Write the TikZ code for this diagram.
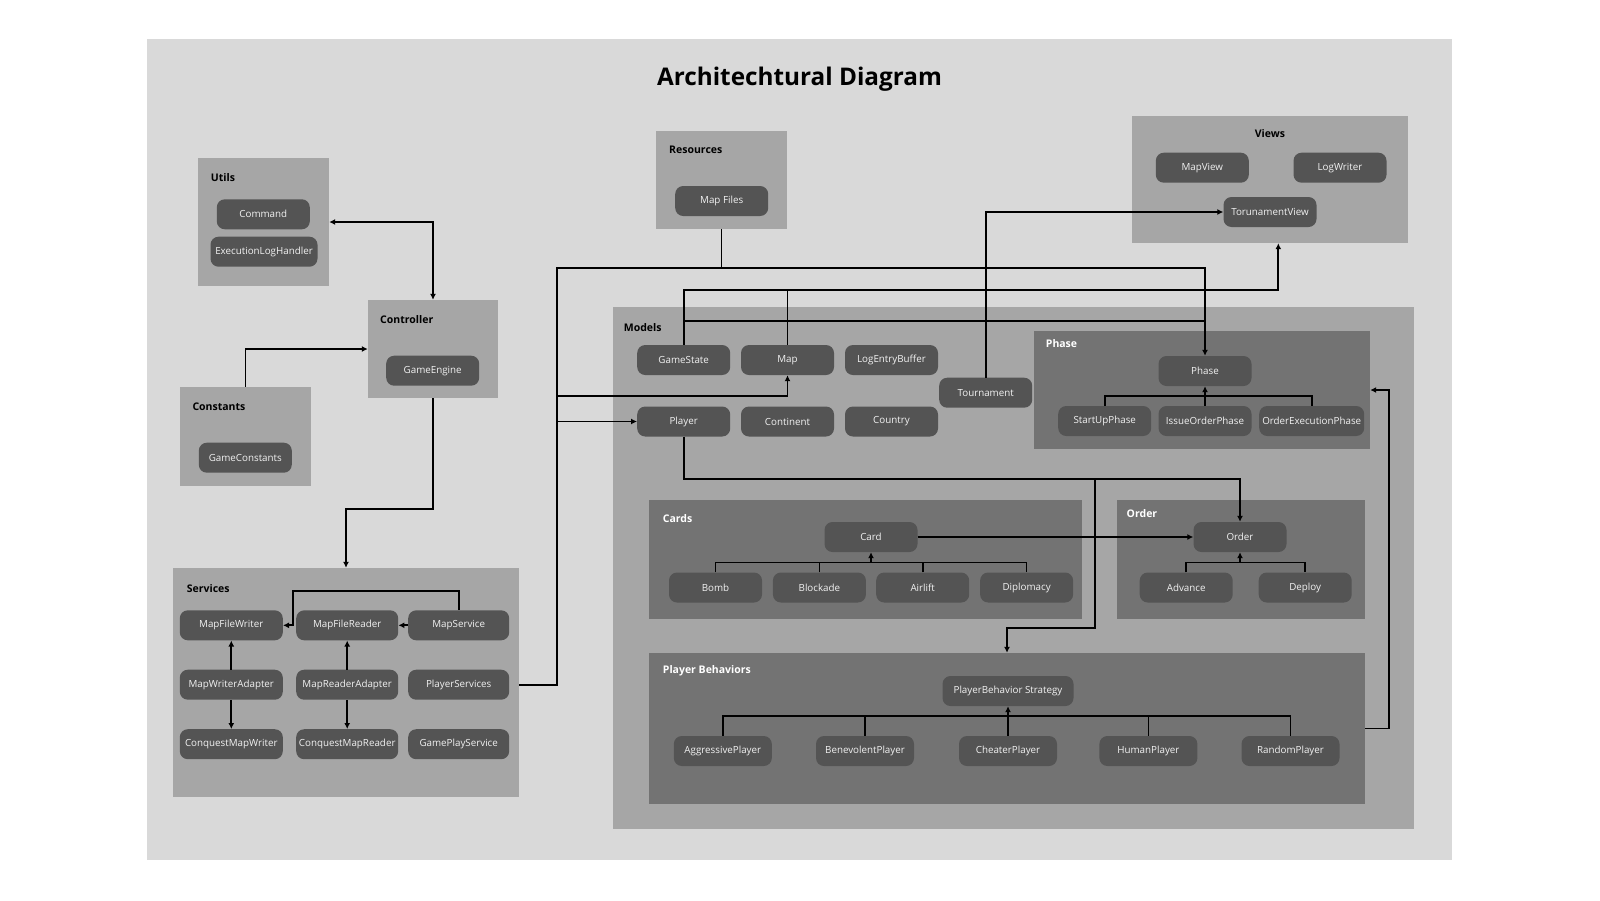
\documentclass[tikz,border=0pt]{standalone}
\usepackage{fontspec}
\setmainfont{Open Sans}
\usetikzlibrary{arrows.meta}
\definecolor{bgA}{HTML}{D9D9D9}
\definecolor{pkgB}{HTML}{A6A6A6}
\definecolor{subC}{HTML}{737373}
\definecolor{nodeD}{HTML}{545454}
\definecolor{txtW}{HTML}{F2F2F2}
\tikzset{
  pkg/.style={fill=pkgB, inner sep=0pt, draw=none},
  subpkg/.style={fill=subC, inner sep=0pt, draw=none},
  cls/.style={fill=nodeD, rounded corners=8pt, text=txtW, minimum height=30pt, minimum width=93pt, inner sep=0pt, font=\fontsize{9.8}{11}\selectfont},
  lbl/.style={anchor=base west, inner sep=0pt, font=\bfseries\fontsize{10.5}{12}\selectfont},
  wlbl/.style={lbl, text=white},
  arr/.style={line width=1.7pt, draw=black},
  >={Latex[length=6pt,width=6pt]}
}
\begin{document}
\begin{tikzpicture}[x=1pt,y=-1pt]
\useasboundingbox (0,0) rectangle (1600,900);
\fill[bgA] (147,39) rectangle (1452,860);
\node[anchor=base, inner sep=0pt, font=\bfseries\fontsize{24.3}{28}\selectfont] (title) at (799.5,85.7) {Architechtural Diagram};

% packages
\node[pkg, minimum width=131pt, minimum height=128pt] (utils) at (263.5,222) {};
\node[pkg, minimum width=130pt, minimum height=98pt] (controller) at (433,349) {};
\node[pkg, minimum width=131pt, minimum height=99pt] (constants) at (245.5,436.5) {};
\node[pkg, minimum width=131pt, minimum height=98pt] (resources) at (721.5,180) {};
\node[pkg, minimum width=276pt, minimum height=127pt] (views) at (1270,179.5) {};
\node[pkg, minimum width=801pt, minimum height=522pt] (models) at (1013.5,568) {};
\node[pkg, minimum width=346pt, minimum height=229pt] (services) at (346,682.5) {};
\node[subpkg, minimum width=336pt, minimum height=118pt] (phasebox) at (1202,390) {};
\node[subpkg, minimum width=433pt, minimum height=119pt] (cards) at (865.5,559.5) {};
\node[subpkg, minimum width=248pt, minimum height=119pt] (orderbox) at (1241,559.5) {};
\node[subpkg, minimum width=716pt, minimum height=151pt] (pbbox) at (1007,728.5) {};

% labels
\node[lbl] (utilsL) at (210.7,181.5) {Utils};
\node[lbl] (controllerL) at (380,323) {Controller};
\node[lbl] (constantsL) at (192.3,410) {Constants};
\node[lbl] (resourcesL) at (669,153.5) {Resources};
\node[lbl, anchor=base] (viewsL) at (1270,137) {Views};
\node[lbl] (modelsL) at (623.7,331) {Models};
\node[lbl] (servicesL) at (186.7,592) {Services};
\node[wlbl] (phaseL) at (1045.7,347) {Phase};
\node[wlbl] (cardsL) at (662.7,522) {Cards};
\node[wlbl] (orderL) at (1126.5,517.7) {Order};
\node[wlbl] (pbL) at (662.7,673.5) {Player Behaviors};

% classes
\node[cls] (command) at (263.3,214.3) {Command};
\node[cls, minimum width=107pt] (elh) at (264,251.7) {ExecutionLogHandler};
\node[cls] (gameengine) at (432.7,370.7) {GameEngine};
\node[cls] (gameconstants) at (245.3,457.7) {GameConstants};
\node[cls] (mapfiles) at (721.7,201) {Map Files};
\node[cls] (mapview) at (1202.3,167.7) {MapView};
\node[cls] (logwriter) at (1340,167.7) {LogWriter};
\node[cls] (tview) at (1270,212) {TorunamentView};
\node[cls] (gamestate) at (683.7,360) {GameState};
\node[cls] (map) at (787.5,360) {Map};
\node[cls] (logbuf) at (891.5,360) {LogEntryBuffer};
\node[cls] (tournament) at (985.7,392.7) {Tournament};
\node[cls] (player) at (683.7,421.5) {Player};
\node[cls] (continent) at (787.5,421.5) {Continent};
\node[cls] (country) at (891.5,421.5) {Country};
\node[cls] (phase) at (1205,371) {Phase};
\node[cls] (startup) at (1104.7,421) {StartUpPhase};
\node[cls] (issue) at (1205,421) {IssueOrderPhase};
\node[cls, minimum width=105pt] (orderexec) at (1311.7,421) {OrderExecutionPhase};
\node[cls] (card) at (871,537) {Card};
\node[cls] (bomb) at (715.5,587.5) {Bomb};
\node[cls] (blockade) at (819.4,587.5) {Blockade};
\node[cls] (airlift) at (922.7,587.5) {Airlift};
\node[cls] (diplomacy) at (1026.6,587.5) {Diplomacy};
\node[cls] (order) at (1240,537) {Order};
\node[cls] (advance) at (1186.2,587.5) {Advance};
\node[cls] (deploy) at (1305.2,587.5) {Deploy};
\node[cls, minimum width=131pt] (pbs) at (1008,691) {PlayerBehavior Strategy};
\node[cls, minimum width=98pt] (aggressive) at (722.8,751) {AggressivePlayer};
\node[cls, minimum width=98pt] (benevolent) at (865,751) {BenevolentPlayer};
\node[cls, minimum width=98pt] (cheater) at (1008,751) {CheaterPlayer};
\node[cls, minimum width=98pt] (human) at (1148.4,751) {HumanPlayer};
\node[cls, minimum width=98pt] (random) at (1290.5,751) {RandomPlayer};
\node[cls, minimum width=103pt] (mfw) at (231.3,625.3) {MapFileWriter};
\node[cls, minimum width=102pt] (mfr) at (347.2,625.3) {MapFileReader};
\node[cls, minimum width=101pt] (ms) at (458.7,625.3) {MapService};
\node[cls, minimum width=103pt] (mwa) at (231.3,684.7) {MapWriterAdapter};
\node[cls, minimum width=102pt] (mra) at (347.2,684.7) {MapReaderAdapter};
\node[cls, minimum width=101pt] (ps) at (458.7,684.7) {PlayerServices};
\node[cls, minimum width=103pt] (cmw) at (231.3,744.2) {ConquestMapWriter};
\node[cls, minimum width=102pt] (cmr) at (347.2,744.2) {ConquestMapReader};
\node[cls, minimum width=101pt] (gps) at (458.7,744.2) {GamePlayService};

% connectors
\draw[arr, <->] (utils.east) -| (controller.north);
\draw[arr, ->] (constants.north) |- (controller.west);
\coordinate (c1) at (433,509);
\draw[arr, ->] (controller.south) -- (c1) -| (services.north);

\draw[arr, ->] (ms.west) -- (mfr.east);
\coordinate (c2) at (293.3,590.7);
\draw[arr, ->] (ms.north) |- (c2) |- (mfw.east);
\draw[arr, ->] (mwa.north) -- (mfw.south);
\draw[arr, ->] (mwa.south) -- (cmw.north);
\draw[arr, ->] (mra.north) -- (mfr.south);
\draw[arr, ->] (mra.south) -- (cmr.north);

\coordinate (b1) at (556.7,684.7);
\coordinate (b2) at (556.7,267.7);
\coordinate (b3) at (1205,267.7);
\coordinate (b4) at (556.7,396);
\draw[arr, ->] (ps.east -| services.east) -- (b1) -- (b2) -- (b3) -- (phase.north);
\draw[arr] (resources.south) -- (resources.south |- b2);
\draw[arr, ->] (b4) -| (map.south);
\draw[arr, ->] (b1 |- player.west) -- (player.west);

\coordinate (v1) at (683.7,290.3);
\coordinate (v2) at (1278.3,290.3);
\draw[arr, ->] (gamestate.north) -- (v1) -- (v2) -- (v2 |- views.south);
\draw[arr] (map.north) -- (map.north |- v1);
\coordinate (g1) at (683.7,321.3);
\draw[arr] (g1) -- (g1 -| phase.north);

\draw[arr, ->] (tournament.north) |- (tview.west);

\coordinate (p1) at (683.7,479);
\coordinate (p2) at (1095,479);
\coordinate (p3) at (1095,627.7);
\draw[arr, ->] (player.south) -- (p1) -| (order.north);
\draw[arr, ->] (p2) -- (p3) -| (pbbox.north);

\draw[arr, ->] (card.east) -- (order.west);

\draw[arr] (bomb.north) -- ++(0,-9.8) -| (diplomacy.north);
\draw[arr] (blockade.north) -- ++(0,-9.8);
\draw[arr] (airlift.north) -- ++(0,-9.8);
\draw[arr, ->] (card.south |- 0,562.7) -- (card.south);

\draw[arr] (advance.north) -- ++(0,-9.8) -| (deploy.north);
\draw[arr, ->] (order.south |- 0,562.7) -- (order.south);

\draw[arr] (startup.north) -- ++(0,-10) -| (orderexec.north);
\draw[arr, ->] (issue.north) -- (phase.south);

\draw[arr] (aggressive.north) -- ++(0,-19.7) -| (random.north);
\draw[arr] (benevolent.north) -- ++(0,-19.7);
\draw[arr] (human.north) -- ++(0,-19.7);
\draw[arr, ->] (cheater.north) -- (pbs.south);

\coordinate (r1) at (1389.3,728.5);
\draw[arr, ->] (pbbox.east) -- (r1) |- (phasebox.east);
\end{tikzpicture}
\end{document}
